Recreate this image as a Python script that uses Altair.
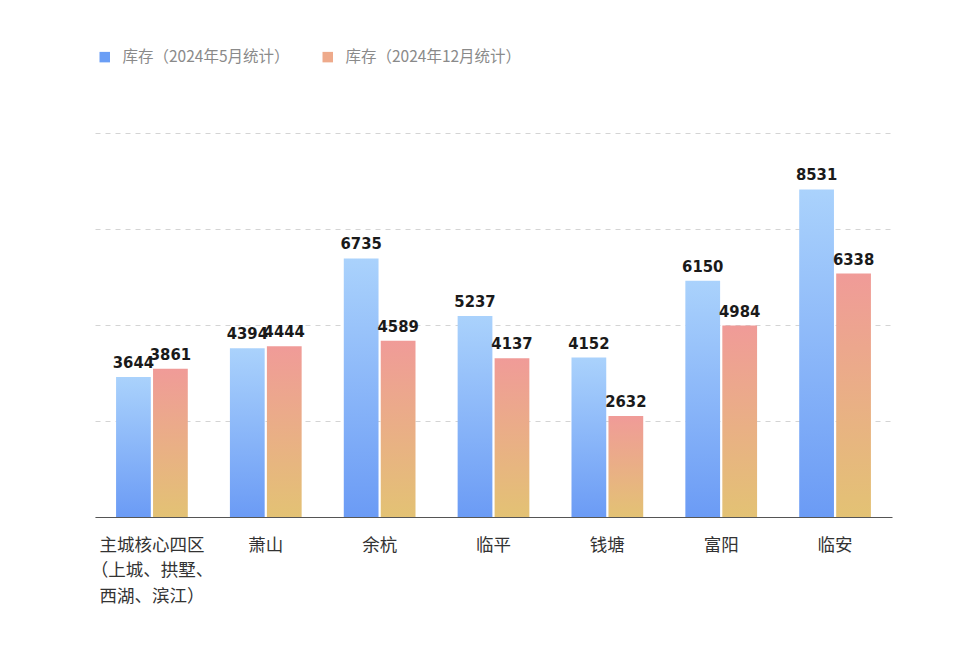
import altair as alt
import pandas as pd

categories = ["主城核心四区\n（上城、拱墅、\n西湖、滨江）", "萧山", "余杭", "临平", "钱塘", "富阳", "临安"]
may_values = [3644, 4394, 6735, 5237, 4152, 6150, 8531]
dec_values = [3861, 4444, 4589, 4137, 2632, 4984, 6338]
series = ["库存（2024年5月统计）", "库存（2024年12月统计）"]

rows = []
for c, a, b in zip(categories, may_values, dec_values):
    rows.append({"cat": c, "series": series[0], "value": a})
    rows.append({"cat": c, "series": series[1], "value": b})
df = pd.DataFrame(rows)

blue_grad = alt.Gradient(gradient="linear", x1=0, x2=0, y1=0, y2=1,
                         stops=[alt.GradientStop(color="#aad2fc", offset=0),
                                alt.GradientStop(color="#6b9bf5", offset=1)])
orange_grad = alt.Gradient(gradient="linear", x1=0, x2=0, y1=0, y2=1,
                           stops=[alt.GradientStop(color="#f09b98", offset=0),
                                  alt.GradientStop(color="#e3c274", offset=1)])

x_enc = alt.X("cat:N", sort=categories, title=None,
              scale=alt.Scale(paddingInner=0.37, paddingOuter=0.185),
              axis=alt.Axis(labelAngle=0, labelFont="Noto Sans CJK SC", labelFontSize=17.5,
                            labelColor="#333333", labelPadding=19, ticks=False,
                            domainColor="#555555", domainWidth=1, grid=False,
                            labelExpr="split(datum.label, '\\n')", labelLineHeight=25.5,
                            labelBaseline="top", labelLimit=0))
xo_enc = alt.XOffset("series:N", sort=series, scale=alt.Scale(domain=series, paddingInner=0.06))
y_enc = alt.Y("value:Q", title=None,
              scale=alt.Scale(domain=[0, 10000], nice=False),
              axis=alt.Axis(values=[0, 2500, 5000, 7500, 10000], labels=False, ticks=False,
                            domain=False, grid=True, gridDash=[5, 5], gridColor="#d4d4d4"))

base = alt.Chart(df)

bars_may = base.transform_filter(alt.datum.series == series[0]).mark_bar(fill=blue_grad).encode(
    x=x_enc, xOffset=xo_enc, y=y_enc)
bars_dec = base.transform_filter(alt.datum.series == series[1]).mark_bar(fill=orange_grad).encode(
    x=x_enc, xOffset=xo_enc, y=y_enc)

legend_layer = base.mark_square(opacity=0).encode(
    x=x_enc, xOffset=xo_enc, y=y_enc,
    color=alt.Color("series:N", sort=series,
                    scale=alt.Scale(domain=series, range=["#6a9ef5", "#eeaa8b"]),
                    legend=alt.Legend(title=None, orient="none", legendX=2, legendY=-84,
                                      direction="horizontal", symbolType="square",
                                      symbolSize=110, symbolOpacity=1, symbolStrokeWidth=0,
                                      labelFont="Noto Sans CJK SC", labelFontSize=15.5,
                                      labelColor="#8a8a8a", labelOffset=10, labelLimit=0,
                                      columnPadding=30)))

labels = base.mark_text(font="DejaVu Sans Condensed", fontWeight="bold",
                        fontSize=16.5, color="#1a1a1a", baseline="bottom", dy=-6).encode(
    x=x_enc, xOffset=xo_enc, y=y_enc, text=alt.Text("value:Q", format="d"))

chart = alt.layer(bars_may, bars_dec, legend_layer, labels).properties(
    width=797, height=384,
    autosize=alt.AutoSizeParams(type="none"),
    padding={"left": 87, "top": 125, "right": 60, "bottom": 120},
    background="white",
).configure_view(stroke=None)

chart.save("out.html", embed_options={"renderer": "svg", "actions": False})
